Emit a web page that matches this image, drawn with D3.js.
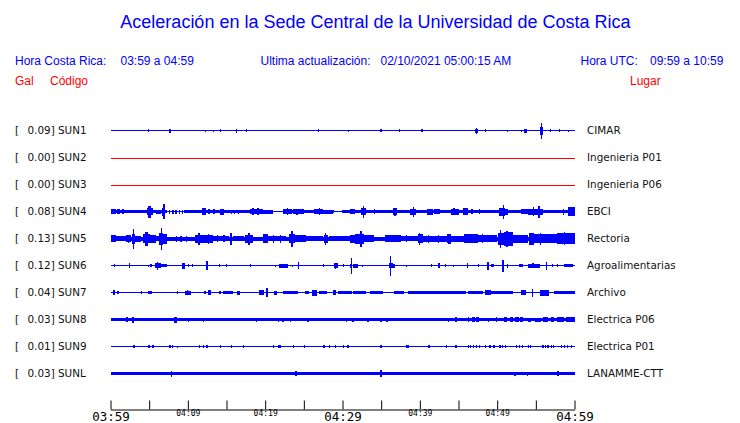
<!DOCTYPE html>
<html><head><meta charset="utf-8">
<script src="https://cdn.jsdelivr.net/npm/d3@7"></script>
<style>
html,body{margin:0;padding:0;background:#fff;}
svg{display:block;}
</style></head><body>
<svg id="chart" width="740" height="423"></svg>
<script>
// ---------- DATA ----------
const chartTitle = "Aceleración en la Sede Central de la Universidad de Costa Rica";
const localRange = "03:59 a 04:59";
const utcRange = "09:59 a 10:59";
const lastUpdate = "02/10/2021 05:00:15 AM";

const stations = ["SUN1","SUN2","SUN3","SUN4","SUN5","SUN6","SUN7","SUN8","SUN9","SUNL"];
const peakGal  = [0.09, 0.00, 0.00, 0.08, 0.13, 0.12, 0.04, 0.03, 0.01, 0.03];
const places   = ["CIMAR","Ingenieria P01","Ingenieria P06","EBCI","Rectoria","Agroalimentarias","Archivo","Electrica P06","Electrica P01","LANAMME-CTT"];
// background noise half-amplitude of each trace (relative units)
const noiseLevel = [0.65, 0.5, 0.5, 1.7, 2.0, 0.7, 0.7, 1.4, 0.5, 1.5];

// bursts: [start minute, end minute, half-amplitude] (minutes after 03:59)
const sun1Bursts = [[4.82,4.82,1.5],[7.55,7.85,2],[12.19,12.19,1],[13.23,13.23,1],[14.13,14.13,1.5],[16.2,16.2,2],[17.5,17.5,1.2],[26.81,26.81,1.5],[30.69,30.69,1],[34.9,35.1,1.5],[37.33,37.33,1.5],[40.1,40.35,1.5],[47.1,47.5,2],[47.26,47.26,3],[48.4,48.6,1.5],[51.3,51.3,1],[53.02,53.02,1],[53.5,53.85,2],[55.5,55.9,4],[55.61,55.75,8],[56.81,56.81,1.2],[57.95,58.15,1.5],[59.14,59.14,1]];
const sun2Bursts = [];
const sun3Bursts = [];
const sun4Bursts = [[0,0.65,2.5],[0.9,1.2,2.5],[1.5,1.8,2.5],[4.66,5.5,3.5],[4.9,5.2,6],[5.82,6.47,2],[6.6,7.1,4],[6.85,7.0,7.2],[7.6,7.7,2],[8.0,8.1,2],[8.4,8.5,2],[8.8,8.9,2],[9.2,9.3,2],[11.77,12.29,3.5],[12.67,12.8,2.5],[13.3,13.4,2.5],[14.22,14.74,3],[15.52,15.6,2],[16.0,16.1,2],[16.5,16.6,2],[18.1,19.66,2.5],[18.3,18.5,3.5],[19.0,19.2,3.5],[19.66,20.95,2],[22.37,23.5,2.5],[22.8,23.0,3.5],[23.6,25.0,2.2],[24.05,24.15,3],[26.25,27.5,2.5],[26.9,27.1,3.5],[27.5,28.8,2],[31.03,31.68,2.5],[32.4,33.1,3.5],[32.65,32.8,6],[34.01,34.1,2.5],[36.5,37.0,3.5],[36.7,36.8,4],[38.79,39.5,3],[39.1,39.25,5],[40.99,41.64,3],[41.77,42.67,2.5],[43.97,45.0,3],[44.3,44.5,3.5],[45.52,46.17,3.5],[46.68,46.75,2.5],[47.59,47.65,2.5],[50.2,51.0,4],[50.75,50.9,7],[51.0,51.34,3],[53.02,53.93,2.5],[53.93,55.99,3],[55.3,55.6,6],[54.6,54.8,4.5],[58.45,58.58,3],[59.1,60,4.5]];
const sun4Quiet  = [[7.37,9.44],[20.95,22.37],[28.9,29.9]];
const sun5Bursts = [[0,0.65,3.5],[0.65,1.94,2.5],[1.94,2.59,3.5],[2.2,2.3,4],[2.9,3.05,10],[2.84,3.23,5],[3.23,3.88,3],[4.14,5.17,4.5],[4.5,4.8,7],[5.17,5.82,4],[5.82,6.21,2.5],[6.3,6.85,6],[6.5,6.7,11],[6.85,7.37,5],[8.41,8.5,3],[9.05,9.15,3],[9.7,9.8,3],[10.99,11.9,4],[11.3,11.6,6],[11.9,13.19,4],[12.6,12.7,5],[13.19,15.26,2.5],[13.8,13.9,3.5],[14.6,14.7,3.5],[15.5,15.6,6],[15.78,17.2,2.5],[17.33,18.49,4],[17.8,18.1,6],[19.66,20.43,4.5],[20.43,22.63,2.5],[21.0,21.1,4],[21.9,22.0,4],[23.02,23.92,4.5],[23.3,23.6,8],[23.92,25.22,3.5],[25.22,27.42,2.5],[27.6,28.1,4],[27.75,27.9,6],[28.19,30.39,2.5],[30.39,31.03,2.5],[31.03,31.68,4],[31.68,32.72,5],[32.2,32.5,8],[32.72,34.01,3.5],[35.56,37.5,3.5],[37.5,39.7,2.5],[38.2,38.3,3.5],[39.7,40.35,4.5],[39.9,40.0,6],[40.35,43.58,3],[41.0,41.1,4],[42.3,42.4,4],[43.5,43.6,4.5],[43.58,43.97,5],[43.97,45.65,3],[45.65,47.46,4.5],[47.46,50.04,3.5],[48.0,48.1,4.5],[50.17,50.82,6],[50.35,50.5,9],[50.82,52.11,7],[51.2,51.3,8],[52.11,53.93,4],[54.06,54.7,6],[54.7,57.8,4.5],[55.5,55.7,6],[57.8,60,5.5],[58.6,58.8,6.5]];
const sun6Bursts = [[0.43,0.5,1.5],[2.37,2.45,2.5],[4.82,4.85,1],[5.17,5.2,1.5],[5.69,6.47,2.5],[6.0,6.2,4],[6.47,7.37,1.5],[9.31,9.57,3],[10.05,10.1,1.5],[10.57,10.62,1.5],[12.29,12.67,2.5],[12.4,12.5,4.5],[14.0,14.05,1.5],[14.96,15.0,1.5],[18.01,18.05,1.5],[21.25,21.3,1],[21.73,22.89,2],[23.41,23.45,1],[24.22,24.28,3.5],[27.45,27.5,1.5],[28.84,29.36,2.5],[29.0,29.1,3],[30.04,30.1,1.5],[31.03,31.29,2],[31.1,31.2,8],[31.42,31.94,2],[32.55,32.6,1],[36.0,36.47,2.5],[36.1,36.25,10],[36.47,36.85,2],[38.24,38.28,1],[41.38,41.42,1.5],[42.29,42.67,2.5],[43.19,43.23,1.5],[44.32,44.36,1],[46.04,46.1,2.5],[47.46,47.5,1.5],[48.71,48.88,4],[49.14,49.53,1.5],[50.65,50.82,6],[51.3,51.35,2],[52.76,53.28,1.5],[53.93,55.48,2],[54.5,54.7,2.5],[56.34,56.38,4],[57.12,57.16,1.5],[57.76,57.8,1.5],[58.58,59.87,1.5]];
const sun7Bursts = [[0.26,0.52,2.5],[0.78,1.16,1.5],[3.88,3.92,1.5],[4.82,5.43,1.5],[8.54,8.6,1.5],[9.57,10.35,2],[9.9,10.0,2.5],[12.03,12.29,1.5],[12.67,13.06,2.5],[13.97,14.35,1.5],[14.61,15.78,1.5],[16.42,16.81,2],[19.14,19.79,2.5],[20.17,20.3,4.5],[21.08,21.47,2],[22.37,23.54,1.5],[23.66,24.31,1.5],[25.09,25.73,1.5],[26.12,26.64,3],[26.9,28.06,1.5],[28.71,29.1,2.5],[29.48,31.29,1.5],[31.42,32.98,1.2],[33.62,35.3,1.2],[36.6,37.89,1.5],[38.41,45.26,1.5],[45.26,45.91,1.2],[46.17,48.23,1.5],[48.49,49.14,2.5],[49.14,52.11,1.5],[53.02,53.67,2.5],[54.5,54.56,4],[55.6,56.64,3],[57.29,60,1.5]];
const sun8Bursts = [[1.94,2.2,2.5],[2.84,3.1,3],[8.15,8.66,3],[9.96,10.0,2],[11.9,11.95,2],[18.75,18.8,2],[21.6,21.65,2],[22.24,22.29,2],[23.15,23.2,2],[25.47,25.52,2],[27.42,27.47,1.8],[28.58,28.63,1.8],[30.39,30.45,2],[31.29,31.35,2],[33.23,33.3,2],[34.91,35.0,2],[35.6,35.82,2],[43.58,43.63,2],[44.61,44.7,2.5],[46.17,46.25,2.5],[46.81,47.1,2.5],[47.3,47.59,2.5],[48.75,48.8,2],[49.79,49.85,2.5],[50.82,51.3,2.5],[51.6,52.11,2.5],[52.37,52.8,2.5],[53.0,53.28,2.5],[53.93,54.4,2],[54.9,55.61,2],[55.99,56.6,2.5],[56.9,57.29,2.5],[57.8,58.6,2.5],[58.9,60,2.5]];
const sun9Bursts = [[2.97,2.97,1.5],[4.91,4.91,1.5],[5.43,5.43,1.5],[7.5,7.5,1.5],[7.63,7.63,1.5],[7.89,7.89,1.5],[8.54,8.54,1],[11.38,11.38,1.5],[11.9,11.9,1.5],[12.41,12.41,1.5],[14.1,14.1,1.5],[15.52,15.52,1.5],[17.07,17.07,1.5],[20.95,20.95,1.5],[21.6,21.6,1.5],[21.85,21.85,1.5],[23.54,23.54,1.5],[24.96,24.96,1.5],[27.54,27.54,1.5],[28.19,28.19,1.5],[28.97,28.97,1.5],[30.04,30.04,1.5],[30.6,30.8,1.5],[34.91,34.91,1.5],[38.15,38.15,1.5],[38.4,38.4,1.5],[41.12,41.12,1.5],[43.32,43.32,1.5],[44.61,44.61,1.5],[46.17,46.17,1.5],[46.5,46.5,1.5],[46.9,46.9,1.5],[47.3,47.3,1.5],[47.59,47.59,1.5],[48.4,48.4,1.5],[49.0,49.0,1.5],[49.5,49.5,1.5],[50.3,50.3,1.5],[50.6,50.6,1.5],[51.0,51.0,1.5],[52.4,52.4,1.5],[52.8,52.8,1.5],[53.2,53.2,1.5],[54.0,54.0,1.5],[54.2,54.2,1.5],[55.86,55.86,1.5],[56.2,56.2,1.5],[56.5,56.5,1.5],[56.9,56.9,1.5],[57.2,57.2,1.5],[58.2,58.2,1.5],[58.6,58.6,1.5],[59.0,59.0,1.5],[59.5,59.5,1.5]];
const sunLBursts = [[7.76,7.8,3],[23.92,23.97,2.5],[34.91,35.0,3.5],[52.24,52.28,2],[53.8,53.85,2],[57.8,57.85,2.5],[59.74,59.78,1.5]];
const bursts = [sun1Bursts,sun2Bursts,sun3Bursts,sun4Bursts,sun5Bursts,sun6Bursts,sun7Bursts,sun8Bursts,sun9Bursts,sunLBursts];
// quiet gaps where the noise band drops to a thin line (only SUN4)
const quietGaps = [[],[],[],sun4Quiet,[],[],[],[],[],[]];

const startTime = new Date(2021, 1, 10, 3, 59);
const windowMinutes = 60;
const tickStepMinutes = 5;
const labelStepMinutes = 10;
const majorLabelMinutes = [0, 30, 60];

// ---------- DRAW ----------
const svg = d3.select("#chart");
const sans = "'Liberation Sans', Arial, sans-serif";
const dv = "'DejaVu Sans', sans-serif";
const mono = "'DejaVu Sans Mono', monospace";
const BLUE = "#0000ff", RED = "#ff0000";

const atMin = m => startTime.getTime() + m * 60000;
const x = d3.scaleTime().domain([startTime, new Date(atMin(windowMinutes))]).range([110.5, 574.5]);
const y = d3.scalePoint().domain(stations).range([130.5, 373.5]);
const amp = d3.scaleLinear().domain([0, 12]).range([0, 12]);
const xm = m => x(new Date(atMin(m)));

svg.append("text").attr("x", 375.5).attr("y", 28).attr("text-anchor", "middle")
  .style("font-family", sans).style("font-size", "18px").attr("fill", BLUE).text(chartTitle);

const hdr = [[15, "Hora Costa Rica:"], [120.5, localRange], [260.5, "Ultima actualización:"], [380.5, lastUpdate], [580.5, "Hora UTC:"], [650, utcRange]];
svg.selectAll("text.hdr").data(hdr).join("text").attr("class", "hdr")
  .attr("x", d => d[0]).attr("y", 65).style("font-family", sans).style("font-size", "12px")
  .attr("fill", BLUE).text(d => d[1]);
const hdr2 = [[15, "Gal"], [50, "Código"], [630, "Lugar"]];
svg.selectAll("text.hdr2").data(hdr2).join("text").attr("class", "hdr2")
  .attr("x", d => d[0]).attr("y", 85).style("font-family", sans).style("font-size", "12px")
  .attr("fill", RED).text(d => d[1]);

stations.forEach((s, i) => {
  const yc = y(s);
  const g = svg.append("g").attr("class", "trace").style("shape-rendering", "crispEdges");
  const flat = peakGal[i] === 0;
  const col = flat ? RED : BLUE;
  svg.append("text").attr("x", 15).attr("y", yc + 3.8).style("font-family", dv).style("font-size", "10.4px").attr("fill", "#111").text("[");
  svg.append("text").attr("x", 27.5).attr("y", yc + 3.8).style("font-family", dv).style("font-size", "10.4px").attr("fill", "#111").text(peakGal[i].toFixed(2) + "] " + s);
  svg.append("text").attr("x", 587).attr("y", yc + 3.8).style("font-family", dv).style("font-size", "10.4px").attr("fill", "#111").text(places[i]);

  if (flat) {
    g.append("line").attr("x1", xm(0)).attr("x2", xm(windowMinutes)).attr("y1", Math.round(yc) + 0.5).attr("y2", Math.round(yc) + 0.5)
      .attr("stroke", col).attr("stroke-width", 1);
    return;
  }
  const gaps = quietGaps[i];
  let segs = [], cur = 0;
  gaps.forEach(gp => { segs.push([cur, gp[0], noiseLevel[i]]); segs.push([gp[0], gp[1], 0.7]); cur = gp[1]; });
  segs.push([cur, windowMinutes, noiseLevel[i]]);
  const all = segs.concat(bursts[i]);
  g.selectAll("rect").data(all).join("rect")
    .attr("x", d => xm(d[0]))
    .attr("width", d => Math.max(1.2, xm(d[1]) - xm(d[0])))
    .attr("y", d => yc - amp(d[2]))
    .attr("height", d => 2 * amp(d[2]))
    .attr("fill", col);
});

// time axis
const tickDates = d3.range(0, windowMinutes + 1, tickStepMinutes).map(m => new Date(atMin(m)));
const fmt = d3.timeFormat("%H:%M");
const axis = d3.axisBottom(x).tickValues(tickDates).tickSize(-9).tickSizeOuter(0)
  .tickFormat((d, i) => (i * tickStepMinutes) % labelStepMinutes === 0 ? fmt(d) : "");
const ax = svg.append("g").attr("transform", "translate(0,409.5)").call(axis);
ax.select(".domain").attr("stroke", "#000");
ax.selectAll(".tick line").attr("stroke", "#000");
ax.selectAll(".tick text").each(function(d, i) {
  const m = i * tickStepMinutes;
  const major = majorLabelMinutes.includes(m);
  d3.select(this).attr("dy", null).attr("y", major ? 11 : 6.5)
    .style("font-family", mono).style("font-size", major ? "12.5px" : "8px").attr("fill", "#000");
});
</script>
</body></html>
